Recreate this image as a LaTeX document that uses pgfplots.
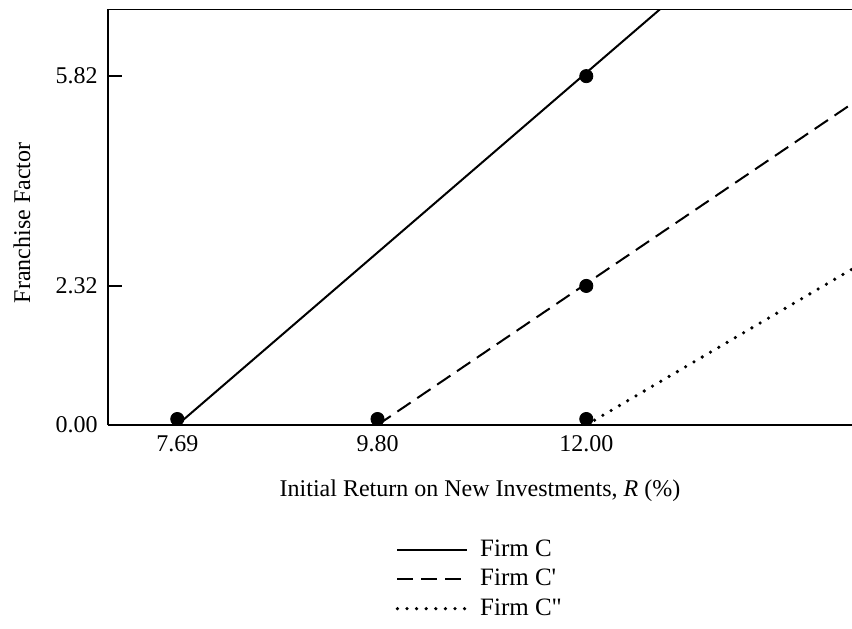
\documentclass[border=0pt]{standalone}
\usepackage{fontspec}
\setmainfont{Liberation Serif}
\usepackage{pgfplots}
\pgfplotsset{compat=1.18}
\begin{document}
\fontsize{12}{14}\selectfont
\begin{tikzpicture}
\begin{axis}[
  name=ax,
  scale only axis,
  width=372pt, height=208pt,
  xmin=6.96, xmax=14.8,
  ymin=0, ymax=6.94,
  axis x line*=bottom, axis y line*=left,
  axis line style={line width=1.2pt, -},
  xtick={7.69,9.80,12.00},
  xticklabels={7.69,9.80,12.00},
  ytick={0,2.32,5.82},
  yticklabels={0.00,2.32,5.82},
  xtick style={draw=none},
  ytick style={line width=1pt, black},
  tick align=inside,
  major tick length=7pt,
  tick label style={font=\fontsize{12}{14}\selectfont},
  /pgf/number format/assume math mode=true,
  xticklabel style={yshift=-1pt},
  yticklabel style={xshift=-1pt},
  xlabel={Initial Return on New Investments, \textit{R} (\%)},
  xlabel style={at={(axis description cs:0.5,-0.159)}, anchor=center, font=\fontsize{12}{14}\selectfont},
  ylabel={Franchise Factor},
  ylabel style={at={(axis description cs:-0.1156,0.486)}, anchor=center, font=\fontsize{12}{14}\selectfont},
  legend style={draw=none, fill=none, at={(axis description cs:0.386,-0.268)}, anchor=north west,
    inner sep=0pt, row sep=1.6pt, font=\fontsize{12.5}{14}\selectfont,
    nodes={inner sep=1.5pt}},
  legend cell align=left,
  legend image code/.code={\draw[#1] (0pt,0pt) -- (35pt,0pt); \path (39pt,0pt);},
  clip=true,
]
\draw[line width=1.2pt] (rel axis cs:0,1) -- (rel axis cs:1,1);
\addplot[black, line width=1pt] coordinates {(7.69,0) (12.78,6.94)};
\addlegendentry{Firm C}
\addplot[black, line width=1pt, dash pattern=on 8pt off 4pt] coordinates {(9.80,0) (14.8,5.36)};
\addlegendentry{Firm C\textquotesingle}
\addplot[black, line width=1.8pt, line cap=round, dash pattern=on 0pt off 4.8pt] coordinates {(12.00,0) (14.8,2.60)};
\addlegendentry{Firm C\textquotedbl}
\addplot[only marks, mark=*, mark size=3.3pt, black, forget plot, clip mode=individual] coordinates {
 (7.69,0.1) (9.80,0.1) (12.00,0.1) (12.00,2.32) (12.00,5.82)};
\end{axis}
\pgfresetboundingbox
\path ([xshift=-54pt,yshift=-101.5pt]ax.south west) rectangle ([yshift=4.5pt]ax.north east);
\end{tikzpicture}
\end{document}
